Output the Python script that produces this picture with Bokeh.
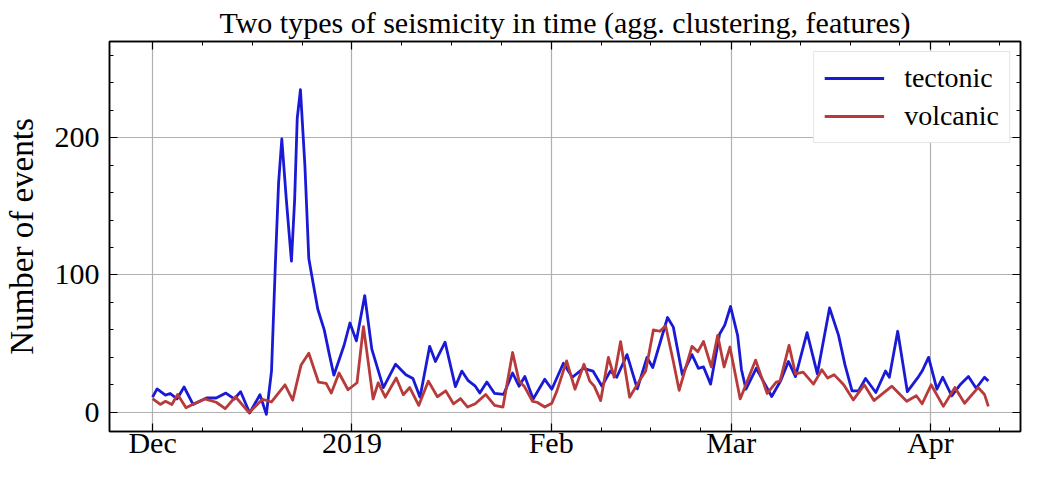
from bokeh.plotting import figure
from bokeh.models import Range1d, FixedTicker, LinearAxis, CustomJSTickFormatter
from bokeh.embed import file_html
from bokeh.resources import INLINE

# Days since 1 Dec 2018
tect_days = [0, 0.7, 2, 2.75, 3.8, 4.9, 6.3, 8.4, 9.9, 11.4, 12.7, 13.7, 15.1, 16.7, 17.7, 18.5,
             19.1, 19.6, 20.1, 20.8, 21.6, 22.1, 22.5, 23.0, 23.7, 24.3, 24.9, 25.7, 26.7, 27.5,
             28.2, 29.8, 30.7, 31.7, 33.0, 34.1, 35.9, 37.8, 39.4, 40.5, 41.6, 43.1, 44.0, 45.5,
             47.1, 48.1, 49.1, 50.2, 50.9, 52.0, 53.2, 54.6, 56.0, 57.0, 57.9, 59.2, 61.0, 62.1,
             63.9, 65.3, 67.0, 68.5, 69.9, 71.2, 72.2, 73.8, 75.4, 76.9, 77.8, 80.1, 81.0, 82.4,
             83.9, 84.9, 85.7, 86.8, 88.2, 89.0, 89.9, 91.0, 91.6, 92.3, 93.9, 96.3, 97.7, 98.9,
             100.0, 101.8, 103.4, 105.3, 106.7, 107.7, 108.8, 109.8, 110.9, 112.5, 114.0, 114.6,
             115.9, 117.4, 119.0, 119.7, 120.7, 122.0, 122.9, 124.3, 125.6, 126.9, 128.1, 129.4, 130.0]
tect_vals = [11, 17, 12.5, 13.7, 9.7, 18.4, 5.7, 10.4, 10.4, 14, 9.7, 15, -0.5, 12.8, -1.5, 30,
             108, 167, 199, 155, 110, 155, 214, 235, 179, 112, 96, 75, 60, 42,
             27, 49, 65, 52, 85, 46, 18, 35, 27.4, 24.6, 11, 48, 37, 51,
             18.7, 30, 23, 19, 14, 22, 13.7, 13, 28.6, 19, 26, 9.7, 24, 16.8,
             35.7, 25.5, 32, 30, 19, 30, 25.5, 42, 17, 40, 32.6, 69, 62, 27.4,
             42, 32, 33, 20.5, 57, 63.5, 77, 56, 31, 16.8, 32, 11.5, 23, 37,
             26, 58, 28, 76, 56, 34.5, 15.6, 15.6, 24.6, 14.4, 30, 25.5,
             59, 15, 25, 30, 40, 16.8, 25.5, 12, 20, 26, 17.5, 25.5, 22.7]

volc_days = [0, 1.2, 2, 3, 3.9, 5.2, 6.6, 8.1, 9.9, 11.3, 12.9, 15.0, 17.1, 18.5, 20.6, 21.8,
             23.1, 24.3, 25.8, 27.0, 27.8, 29.0, 30.4, 31.8, 32.8, 33.6, 34.3, 35.1, 36.2, 37.9,
             39.0, 40.0, 41.4, 42.9, 44.3, 45.6, 46.8, 47.9, 49.0, 50.2, 51.8, 53.2, 54.5, 56.0,
             57.0, 57.8, 59.1, 59.8, 61.0, 62.1, 62.9, 64.4, 65.7, 67.1, 68.0, 68.7, 69.7, 70.9,
             71.8, 72.8, 74.2, 75.7, 76.7, 77.9, 78.9, 79.8, 81.0, 81.9, 83.9, 84.8, 85.7, 86.9,
             87.9, 88.9, 89.8, 91.4, 93.8, 95.6, 97.0, 97.6, 99.0, 100.0, 101.2, 102.8, 104.1,
             105.0, 106.0, 107.5, 109.0, 110.7, 112.2, 115.0, 117.3, 118.8, 119.7, 121.1, 123.0,
             124.8, 126.3, 128.4, 129.4, 130.0]
volc_vals = [10, 5.7, 8, 5.7, 13, 3.3, 6.6, 9.7, 7.3, 2.6, 11.3, -0.3, 9.5, 7.5, 20, 8.8,
             34.5, 43, 22, 21, 14, 28.6, 16.4, 21.5, 62.4, 34.5, 9.7, 21.5, 11, 25,
             12.8, 18, 5, 22.7, 11.3, 15.6, 6.2, 10, 3.8, 6.2, 13, 5, 3.8, 43.5,
             22.7, 19, 8, 7.3, 3.8, 6.6, 15.6, 37.4, 16.8, 35, 22.7, 19, 8.5, 40,
             25.5, 51.5, 11, 22.7, 30, 60, 59, 63, 37, 16, 48, 44, 51.5, 33,
             56, 33, 47.5, 9.7, 38, 13.7, 22, 22.7, 48.7, 27.9, 29.3, 20.5, 31,
             25, 27.4, 20, 9, 20, 8.5, 19, 8, 12, 6.2, 20, 4.3,
             18, 6.6, 18, 13, 4.3]

month_days = [0, 31, 62, 90, 121]
month_labels = ["Dec", "2019", "Feb", "Mar", "Apr"]
y_major = [0, 100, 200]

FONT = "Liberation Serif"
BLUE = "#1a1ad6"
RED = "#b83a3a"

p = figure(width=1022, height=461, output_backend="svg", toolbar_location=None,
           x_range=Range1d(-6.7, 135), y_range=Range1d(-14, 270),
           min_border_left=100, min_border_right=2, min_border_top=0, min_border_bottom=0)
p.background_fill_color = "white"
p.border_fill_color = "white"
p.outline_line_color = "black"
p.outline_line_width = 1.5

x_minor = [k * 31 / 4 for k in range(0, 18)]
y_minor = list(range(0, 261, 20))
xt = FixedTicker(ticks=month_days, minor_ticks=x_minor)
yt = FixedTicker(ticks=y_major, minor_ticks=y_minor)

p.line(tect_days, tect_vals, line_color=BLUE, line_width=2.8, legend_label="tectonic",
       line_join="round")
p.line(volc_days, volc_vals, line_color=RED, line_width=2.8, legend_label="volcanic",
       line_join="round")

def style_axis(ax, labels=True):
    ax.axis_line_color = "black"
    ax.axis_line_width = 1.5
    ax.major_tick_in = 8
    ax.major_tick_out = 0
    ax.minor_tick_in = 4
    ax.minor_tick_out = 0
    ax.major_tick_line_color = "black"
    ax.minor_tick_line_color = "black"
    ax.major_tick_line_width = 1.2
    ax.minor_tick_line_width = 1.0
    if labels:
        ax.major_label_text_font = FONT
        ax.major_label_text_font_size = "30px"
        ax.major_label_text_color = "black"
    else:
        ax.formatter = CustomJSTickFormatter(code="return '';")
        ax.major_label_standoff = 0
        ax.axis_label = None
        ax.axis_label_standoff = 0

p.xaxis.ticker = xt
p.yaxis.ticker = yt
p.xaxis.major_label_overrides = {d: l for d, l in zip(month_days, month_labels)}
style_axis(p.xaxis[0])
style_axis(p.yaxis[0])
p.xaxis.axis_label = None
p.xaxis.axis_label_standoff = 0
p.xaxis.major_label_standoff = -6
p.yaxis.major_label_standoff = 10
p.yaxis.axis_label = "Number of events"
p.yaxis.axis_label_text_font = FONT
p.yaxis.axis_label_text_font_size = "33px"
p.yaxis.axis_label_text_font_style = "normal"
p.yaxis.axis_label_text_color = "black"
p.yaxis.axis_label_standoff = 12

top = LinearAxis(ticker=xt)
style_axis(top, labels=False)
p.add_layout(top, "above")
right = LinearAxis(ticker=yt)
style_axis(right, labels=False)
p.add_layout(right, "right")

p.xgrid.ticker = FixedTicker(ticks=month_days)
p.ygrid.ticker = FixedTicker(ticks=y_major)
for g in (p.xgrid[0], p.ygrid[0]):
    g.grid_line_color = "#b0b0b0"
    g.grid_line_width = 1.2

p.title.text = "Two types of seismicity in time (agg. clustering, features)"
p.title.text_font = FONT
p.title.text_font_size = "30px"
p.title.text_font_style = "normal"
p.title.text_color = "black"
p.title.align = "center"
p.title.standoff = 6

lg = p.legend[0]
lg.location = "top_right"
lg.label_text_font = FONT
lg.label_text_font_size = "28px"
lg.label_text_color = "black"
lg.glyph_width = 60
lg.label_standoff = 20
lg.padding = 10
lg.spacing = 6
lg.margin = 10
lg.border_line_color = "#cccccc"
lg.border_line_width = 1.5
lg.background_fill_color = "white"
lg.background_fill_alpha = 1.0

open("out.html", "w").write(file_html(p, INLINE))
